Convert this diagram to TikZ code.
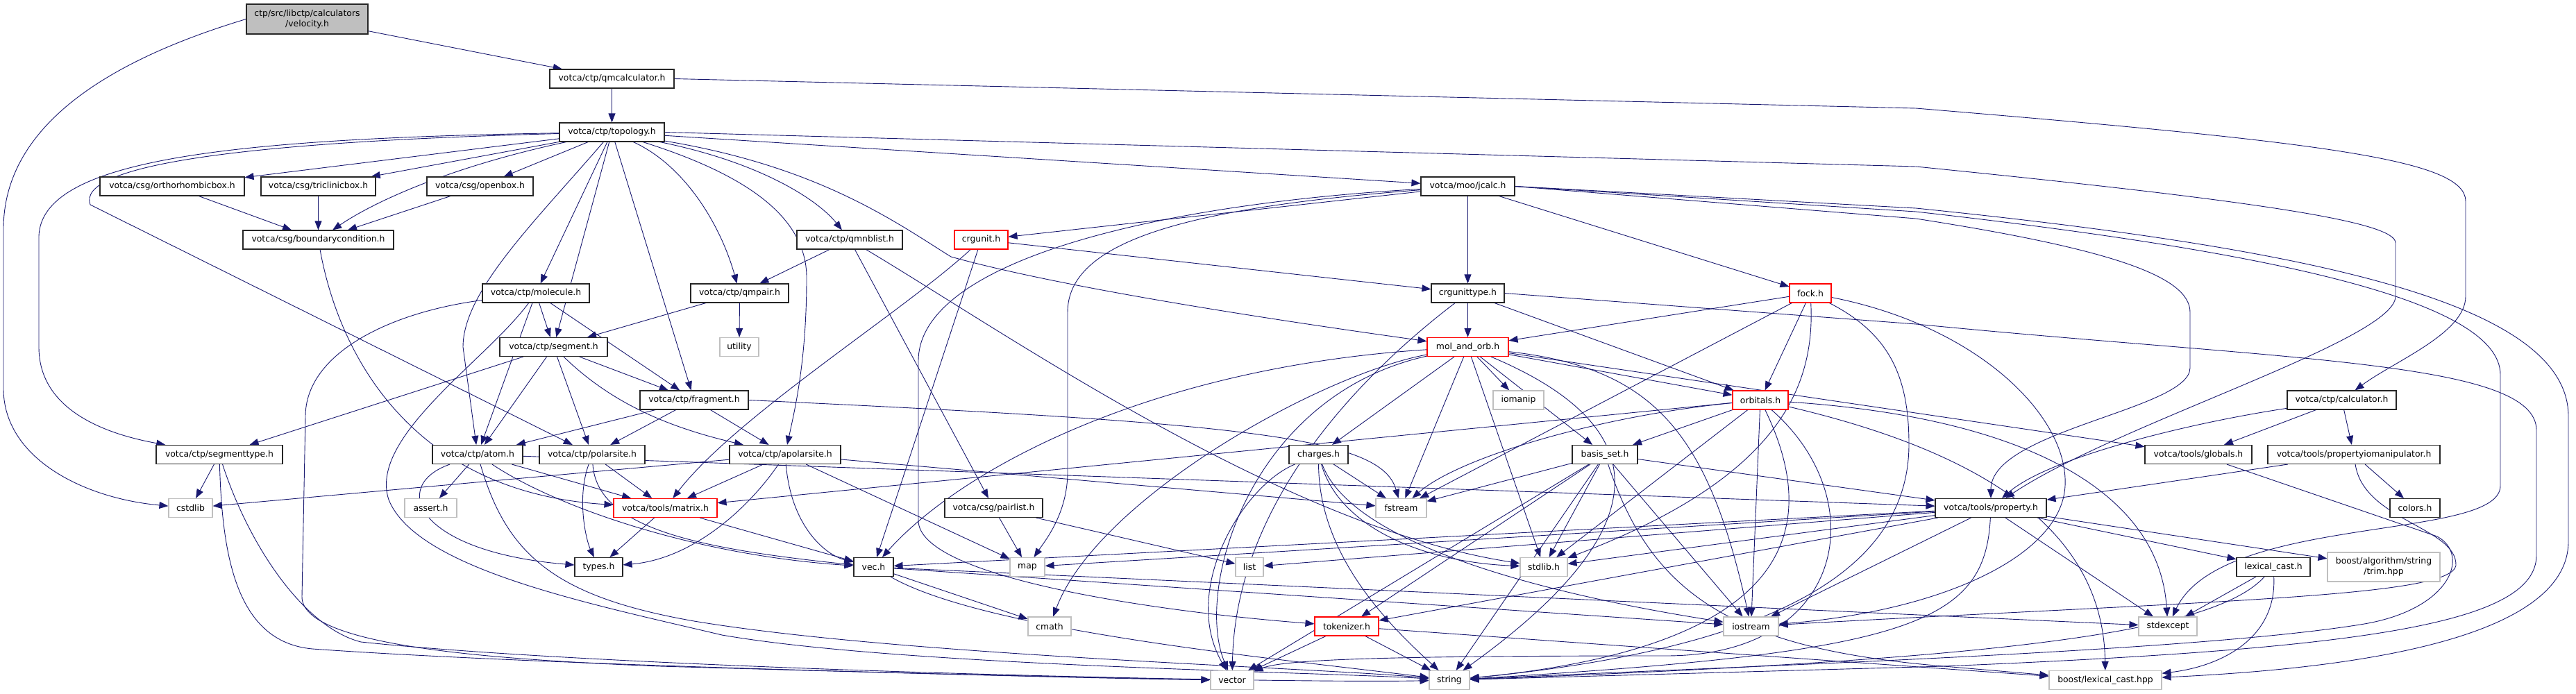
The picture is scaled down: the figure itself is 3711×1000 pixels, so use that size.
\documentclass[tikz,border=0pt]{standalone}
\usepackage{fontspec}
\setmainfont{DejaVu Sans}
\usetikzlibrary{arrows.meta}
\pgfdeclarelayer{bg}
\pgfsetlayers{bg,main}
\definecolor{edgeblue}{HTML}{191970}
\definecolor{greyext}{HTML}{BFBFBF}
\newcommand\gfont{\fontsize{12.4}{15}\selectfont}
\begin{document}
\begin{tikzpicture}[x=1pt,y=-1pt,
 box/.style={draw=black!85,line width=1.1pt,fill=white,minimum height=27pt,inner sep=0pt,font=\gfont},
 redbox/.style={box,draw=red},
 extbox/.style={box,draw=greyext},
 rootbox/.style={box,fill=greyext,align=center,minimum height=43pt},
 twoline/.style={align=center,minimum height=42pt},
 edge/.style={draw=edgeblue,line width=0.9pt,-{Triangle[length=13pt,width=10pt]}}]
\useasboundingbox (0,0) rectangle (3711,1000);

% rank 0-2
\node[rootbox,minimum width=175pt] (vel) at (442.5,27.5) {ctp/src/libctp/calculators\\/velocity.h};
\node[box,minimum width=179pt] (qmc) at (881.5,113.5) {votca/ctp/qmcalculator.h};
\node[box,minimum width=151pt] (topo) at (881.5,190.5) {votca/ctp/topology.h};
% rank 3
\node[box,minimum width=208pt] (ortho) at (248,268.5) {votca/csg/orthorhombicbox.h};
\node[box,minimum width=165pt] (tric) at (458.5,268.5) {votca/csg/triclinicbox.h};
\node[box,minimum width=153pt] (openb) at (691.5,268.5) {votca/csg/openbox.h};
\node[box,minimum width=135pt] (jcalc) at (2114.5,268.5) {votca/moo/jcalc.h};
% rank 4
\node[box,minimum width=217pt] (bcond) at (458.5,345.5) {votca/csg/boundarycondition.h};
\node[box,minimum width=152pt] (qmnb) at (1224,345.5) {votca/ctp/qmnblist.h};
\node[redbox,minimum width=77pt] (crgu) at (1413.5,345.5) {crgunit.h};
% rank 5
\node[box,minimum width=154pt] (molec) at (772,422.5) {votca/ctp/molecule.h};
\node[box,minimum width=141pt] (qmpair) at (1065.5,422.5) {votca/ctp/qmpair.h};
\node[box,minimum width=105pt] (crgt) at (2114.5,422.5) {crgunittype.h};
\node[redbox,minimum width=60pt] (fock) at (2608,422.5) {fock.h};
% rank 6
\node[box,minimum width=155pt] (segm) at (797.5,500) {votca/ctp/segment.h};
\node[extbox,minimum width=56pt] (util) at (1065,500) {utility};
\node[redbox,minimum width=117pt] (mao) at (2114.5,500) {mol\_and\_orb.h};
% rank 7
\node[box,minimum width=156pt] (frag) at (1000,576.5) {votca/ctp/fragment.h};
\node[extbox,minimum width=73pt] (ioman) at (2187.5,576.5) {iomanip};
\node[redbox,minimum width=80pt] (orb) at (2536,576.5) {orbitals.h};
\node[box,minimum width=157pt] (calc) at (3373.5,576.5) {votca/ctp/calculator.h};
% rank 8
\node[box,minimum width=182pt] (segt) at (316,655) {votca/ctp/segmenttype.h};
\node[box,minimum width=130pt] (atom) at (688,655) {votca/ctp/atom.h};
\node[box,minimum width=152pt] (polar) at (853,655) {votca/ctp/polarsite.h};
\node[box,minimum width=160pt] (apolar) at (1131,655) {votca/ctp/apolarsite.h};
\node[box,minimum width=85pt] (charges) at (1899.5,655) {charges.h};
\node[box,minimum width=94pt] (basis) at (2312,655) {basis\_set.h};
\node[box,minimum width=154pt] (glob) at (3167,655) {votca/tools/globals.h};
\node[box,minimum width=248pt] (pio) at (3391,655) {votca/tools/propertyiomanipulator.h};
% rank 9
\node[extbox,minimum width=63pt] (cstd) at (274.5,732) {cstdlib};
\node[extbox,minimum width=75pt] (assert) at (620.5,732) {assert.h};
\node[redbox,minimum width=149pt] (matrix) at (958.5,732) {votca/tools/matrix.h};
\node[box,minimum width=141pt] (pairl) at (1431.5,732) {votca/csg/pairlist.h};
\node[extbox,minimum width=73pt] (fstream) at (2018.5,732) {fstream};
\node[box,minimum width=160pt] (prop) at (2868,732) {votca/tools/property.h};
\node[box,minimum width=72pt] (colors) at (3479,732) {colors.h};
% rank 10
\node[box,minimum width=69pt] (types) at (862.5,817) {types.h};
\node[box,minimum width=57pt] (vec) at (1258.5,817) {vec.h};
\node[extbox,minimum width=50pt] (map) at (1480,817) {map};
\node[extbox,minimum width=40pt] (list) at (1800,817) {list};
\node[extbox,minimum width=68pt] (stdlib) at (2224,817) {stdlib.h};
\node[box,minimum width=106pt] (lexc) at (3275,817) {lexical\_cast.h};
\node[extbox,twoline,minimum width=162pt] (trim) at (3434,817) {boost/algorithm/string\\/trim.hpp};
% rank 11
\node[extbox,minimum width=62pt] (cmath) at (1512,902.5) {cmath};
\node[redbox,minimum width=92pt] (tok) at (1940,902.5) {tokenizer.h};
\node[extbox,minimum width=79pt] (iostr) at (2522.5,902.5) {iostream};
\node[extbox,minimum width=84pt] (stdexc) at (3123,902.5) {stdexcept};
% rank 12
\node[extbox,minimum width=62pt] (vector) at (1775,980) {vector};
\node[extbox,minimum width=58pt] (string) at (2088,980) {string};
\node[extbox,minimum width=162pt] (blc) at (3033,980) {boost/lexical\_cast.hpp};

\begin{pgfonlayer}{bg}
% velocity
\draw[edge] (vel) -- (qmc);
\draw[edge] (vel.west) .. controls (180,80) and (5,170) .. (5,330) -- (5,560) .. controls (5,660) and (120,718) .. (cstd);
% qmcalculator
\draw[edge] (qmc) -- (topo);
\draw[edge] (qmc.east) -- (2760,156) .. controls (3350,205) and (3552,230) .. (3552,290) -- (3552,427) .. controls (3552,480) and (3450,520) .. (calc);
% topology
\draw[edge] (topo) -- (ortho);
\draw[edge] (topo) -- (tric);
\draw[edge] (topo) -- (openb);
\draw[edge] (topo) .. controls (650,240) and (540,290) .. (bcond);
\draw[edge] (topo) .. controls (300,200) and (60,235) .. (56,340) -- (56,500) .. controls (56,590) and (150,625) .. (segt);
\draw[edge] (topo) .. controls (330,205) and (110,240) .. (130,295) -- (polar);
\draw[edge] (topo) -- (molec);
\draw[edge] (topo) -- (segm);
\draw[edge] (topo) .. controls (770,320) and (667,420) .. (667,500) -- (atom);
\draw[edge] (topo) -- (frag);
\draw[edge] (topo) .. controls (990,240) and (1040,330) .. (qmpair);
\draw[edge] (topo) .. controls (1100,235) and (1180,290) .. (qmnb);
\draw[edge] (topo) .. controls (1070,250) and (1162,310) .. (1162,400) .. controls (1162,520) and (1145,590) .. (apolar);
\draw[edge] (topo) .. controls (1180,240) and (1290,320) .. (1370,370) .. controls (1550,420) and (1900,470) .. (mao);
\draw[edge] (topo) -- (jcalc);
\draw[edge] (topo.east) -- (2760,240) .. controls (3260,290) and (3451,320) .. (3451,350) -- (3451,427) .. controls (3451,490) and (3050,610) .. (prop);
% boxes
\draw[edge] (ortho) -- (bcond);
\draw[edge] (tric) -- (bcond);
\draw[edge] (openb) -- (bcond);
\draw[edge] (bcond) .. controls (490,520) and (600,710) .. (matrix);
% jcalc
\draw[edge] (jcalc) -- (crgu);
\draw[edge] (jcalc) -- (crgt);
\draw[edge] (jcalc) -- (fock);
\draw[edge] (jcalc) .. controls (1700,300) and (1538,350) .. (1538,450) -- (1538,680) .. controls (1538,740) and (1505,780) .. (map);
\draw[edge] (jcalc) .. controls (1650,295) and (1323,380) .. (1323,520) -- (1323,750) .. controls (1323,830) and (1650,880) .. (tok);
\draw[edge] (jcalc.east) -- (2760,315) .. controls (3050,360) and (3155,400) .. (3155,450) -- (3155,530) .. controls (3155,590) and (2868,620) .. (prop);
\draw[edge] (jcalc.east) -- (2760,305) .. controls (3250,360) and (3602,430) .. (3602,540) -- (3602,700) .. controls (3602,780) and (3200,740) .. (stdexc);
\draw[edge] (jcalc.east) -- (2760,300) .. controls (3350,360) and (3700,440) .. (3700,600) -- (3700,780) .. controls (3700,930) and (3350,965) .. (blc);
% crgunit
\draw[edge] (crgu) -- (crgt);
\draw[edge] (crgu) .. controls (1300,450) and (1060,600) .. (matrix);
\draw[edge] (crgu) -- (vec);
% qmnblist
\draw[edge] (qmnb) -- (qmpair);
\draw[edge] (qmnb) -- (pairl);
\draw[edge] (qmnb) .. controls (1450,480) and (1850,760) .. (stdlib);
% qmpair
\draw[edge] (qmpair) -- (util);
\draw[edge] (qmpair) -- (segm);
% molecule
\draw[edge] (molec) -- (segm);
\draw[edge] (molec) -- (atom);
\draw[edge] (molec) -- (frag);
\draw[edge] (molec) .. controls (560,450) and (440,510) .. (440,600) -- (435,860) .. controls (435,930) and (700,950) .. (950,960) .. controls (1300,970) and (1600,978) .. (vector);
\draw[edge] (molec) .. controls (700,520) and (530,630) .. (560,720) .. controls (600,820) and (850,870) .. (1040,915) .. controls (1300,960) and (1900,968) .. (string);
% crgunittype
\draw[edge] (crgt) -- (mao);
\draw[edge] (crgt) -- (orb);
\draw[edge] (crgt) .. controls (2000,510) and (1780,700) .. (vector);
\draw[edge] (crgt.east) -- (2760,467) .. controls (3300,520) and (3654,520) .. (3654,620) -- (3654,800) .. controls (3654,900) and (3400,935) .. (2800,960) -- (string);
% fock
\draw[edge] (fock) -- (mao);
\draw[edge] (fock) -- (fstream);
\draw[edge] (fock) -- (orb);
\draw[edge] (fock) .. controls (2615,560) and (2560,690) .. (stdlib);
\draw[edge] (fock) .. controls (2720,480) and (2750,540) .. (2750,640) .. controls (2750,800) and (2600,930) .. (string);
\draw[edge] (fock) .. controls (2850,470) and (2980,600) .. (2975,700) .. controls (2970,800) and (2800,880) .. (iostr);
% segment
\draw[edge] (segm) -- (segt);
\draw[edge] (segm) -- (atom);
\draw[edge] (segm) -- (polar);
\draw[edge] (segm) -- (frag);
\draw[edge] (segm) .. controls (880,580) and (960,615) .. (apolar);
% mol_and_orb
\draw[edge] (mao) -- (ioman);
\draw[edge] (mao) -- (orb);
\draw[edge] (mao) -- (charges);
\draw[edge] (mao) -- (basis);
\draw[edge] (mao) -- (fstream);
\draw[edge] (mao) -- (stdlib);
\draw[edge] (mao) .. controls (2400,620) and (2380,770) .. (string);
\draw[edge] (mao) .. controls (1800,570) and (1720,850) .. (vector);
\draw[edge] (mao) .. controls (1650,530) and (1380,680) .. (vec);
\draw[edge] (mao) .. controls (1900,540) and (1580,720) .. (cmath);
\draw[edge] (mao) .. controls (2380,530) and (2460,620) .. (iostr);
\draw[edge] (mao) -- (glob);
% fragment
\draw[edge] (frag) -- (atom);
\draw[edge] (frag) -- (polar);
\draw[edge] (frag) -- (apolar);
\draw[edge] (frag.east) .. controls (1800,610) and (1990,630) .. (fstream);
% orbitals
\draw[edge] (orb) -- (matrix);
\draw[edge] (orb) .. controls (2300,600) and (2100,660) .. (fstream);
\draw[edge] (orb) -- (basis);
\draw[edge] (orb) -- (stdlib);
\draw[edge] (orb) -- (iostr);
\draw[edge] (orb) .. controls (2620,750) and (2600,930) .. (string);
\draw[edge] (orb) .. controls (2700,720) and (2660,945) .. (2400,945) .. controls (2000,945) and (1850,950) .. (vector);
\draw[edge] (orb) .. controls (2900,600) and (3110,700) .. (stdexc);
\draw[edge] (orb) .. controls (2850,650) and (3030,760) .. (blc);
% calculator
\draw[edge] (calc) -- (glob);
\draw[edge] (calc) -- (pio);
\draw[edge] (calc) .. controls (3150,610) and (2950,660) .. (prop);
% segmenttype
\draw[edge] (segt) -- (cstd);
\draw[edge] (segt) .. controls (320,800) and (340,925) .. (450,935) .. controls (800,960) and (1500,975) .. (vector);
\draw[edge] (segt) .. controls (360,790) and (440,905) .. (520,925) .. controls (900,965) and (1850,985) .. (string);
% atom
\draw[edge] (atom) .. controls (560,700) and (600,795) .. (types);
\draw[edge] (atom) -- (assert);
\draw[edge] (atom) -- (matrix);
\draw[edge] (atom) -- (prop);
\draw[edge] (atom) .. controls (800,730) and (1000,800) .. (vec);
\draw[edge] (atom) .. controls (730,800) and (800,860) .. (1000,895) .. controls (1300,945) and (1900,962) .. (string);
% polarsite
\draw[edge] (polar) .. controls (830,720) and (845,780) .. (types);
\draw[edge] (polar) .. controls (860,760) and (1000,790) .. (vec);
\draw[edge] (polar) -- (matrix);
% apolarsite
\draw[edge] (apolar) -- (cstd);
\draw[edge] (apolar) -- (matrix);
\draw[edge] (apolar) .. controls (1140,760) and (1190,800) .. (vec);
\draw[edge] (apolar) .. controls (1080,730) and (1000,805) .. (types);
\draw[edge] (apolar) -- (map);
\draw[edge] (apolar) -- (fstream);
% charges
\draw[edge] (charges) -- (fstream);
\draw[edge] (charges) .. controls (1930,760) and (2050,810) .. (stdlib);
\draw[edge] (charges) .. controls (1950,790) and (2250,860) .. (iostr);
\draw[edge] (charges) .. controls (1900,800) and (2000,900) .. (string);
\draw[edge] (charges) .. controls (1790,700) and (1700,850) .. (vector);
% basis_set
\draw[edge] (basis) -- (fstream);
\draw[edge] (basis) -- (stdlib);
\draw[edge] (basis) -- (tok);
\draw[edge] (basis) -- (string);
\draw[edge] (basis) -- (iostr);
\draw[edge] (basis) -- (prop);
\draw[edge] (basis) -- (vector);
\draw[edge] (basis) .. controls (2380,860) and (2500,935) .. (2800,960) -- (blc);
% globals, propertyiomanipulator
\draw[edge] (glob) -- (3511,773) .. controls (3560,800) and (3530,880) .. (3400,900) .. controls (3150,940) and (2500,960) .. (string);
\draw[edge] (pio) -- (prop);
\draw[edge] (pio) -- (colors);
\draw[edge] (pio) .. controls (3405,750) and (3540,760) .. (3538,815) .. controls (3530,860) and (3200,865) .. (iostr);
% property
\draw[edge] (prop) -- (vec);
\draw[edge] (prop) -- (map);
\draw[edge] (prop) -- (list);
\draw[edge] (prop) -- (stdlib);
\draw[edge] (prop) -- (tok);
\draw[edge] (prop) -- (iostr);
\draw[edge] (prop) .. controls (2860,900) and (2750,940) .. (string);
\draw[edge] (prop) -- (stdexc);
\draw[edge] (prop) -- (lexc);
\draw[edge] (prop) -- (trim);
% matrix, pairlist, vec
\draw[edge] (matrix) -- (types);
\draw[edge] (matrix) -- (vec);
\draw[edge] (pairl) -- (map);
\draw[edge] (pairl) -- (list);
\draw[edge] (vec) -- (iostr);
\draw[edge] (vec) -- (stdexc);
\draw[edge] (vec) -- (cmath);
\draw[edge] (vec) .. controls (1420,910) and (1850,950) .. (string);
% lexical_cast, tokenizer
\draw[edge] (lexc) -- (stdexc);
\draw[edge] (lexc) .. controls (3190,910) and (2900,950) .. (string);
\draw[edge] (lexc) .. controls (3280,920) and (3200,960) .. (blc);
\draw[edge] (tok) -- (vector);
\draw[edge] (tok) -- (string);
\draw[edge] (tok) -- (blc);
\end{pgfonlayer}
\end{tikzpicture}
\end{document}
